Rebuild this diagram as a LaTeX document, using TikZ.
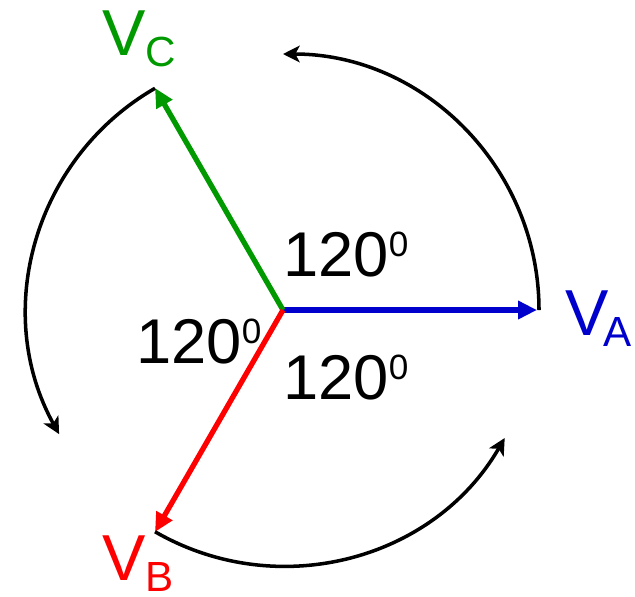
\documentclass[tikz,border=0pt]{standalone}
\usepackage{fontspec}
\setmainfont{Liberation Sans}
\usetikzlibrary{arrows.meta}
\definecolor{vblue}{RGB}{0,0,205}
\definecolor{vgreen}{RGB}{0,153,0}
\definecolor{vred}{RGB}{255,0,0}
\newcommand{\mysub}[1]{\raisebox{-6.8pt}{\fontsize{24}{24}\selectfont #1}}
\newcommand{\mydeg}{\raisebox{11.3pt}{\fontsize{20}{20}\selectfont 0}}
\begin{document}
\begin{tikzpicture}[x=0.02cm,y=0.02cm,
  vec/.style={line width=3pt,-{Triangle[length=10.8pt,width=10pt]}},
  rot/.style={line width=2pt,-{Stealth[length=9.5pt,width=9.5pt,inset=2.5pt]}},
  lbl/.style={inner sep=0pt,anchor=base west,font=\fontsize{37}{37}\selectfont},
  ang/.style={inner sep=0pt,anchor=base west,font=\fontsize{36}{36}\selectfont}]
\useasboundingbox (0,0) rectangle (635,-596);
\coordinate (O) at (283,-310);
\coordinate (A) at (537,-310);
\coordinate (C) at (155,-88);
\coordinate (B) at (155,-532);
% vectors
\draw[vec,vblue] (O) -- (A);
\draw[vec,vgreen] (O) -- (C);
\draw[vec,vred] (O) -- (B);
% rotation arcs
\coordinate (a1) at ([shift={(0:256)}]O);
\coordinate (a2) at ([shift={(120:256)}]O);
\coordinate (a3) at ([shift={(240:256)}]O);
\draw[rot] (a1) arc[start angle=0,end angle=90,radius=256];
\draw[rot] (a2) arc[start angle=120,end angle=209,radius=256];
\draw[rot] (a3) arc[start angle=240,end angle=330,radius=256];
% labels
\node[lbl,text=vblue] (la) at (565,-335) {V\kern-3pt\mysub{A}};
\node[lbl,text=vgreen] (lc) at (102,-55) {V\mysub{C}};
\node[lbl,text=vred] (lb) at (102,-580) {V\mysub{B}};
\node[ang] (t1) at (283,-276) {120\mydeg};
\node[ang] (t2) at (136,-363) {120\mydeg};
\node[ang] (t3) at (283,-399) {120\mydeg};
\end{tikzpicture}
\end{document}
